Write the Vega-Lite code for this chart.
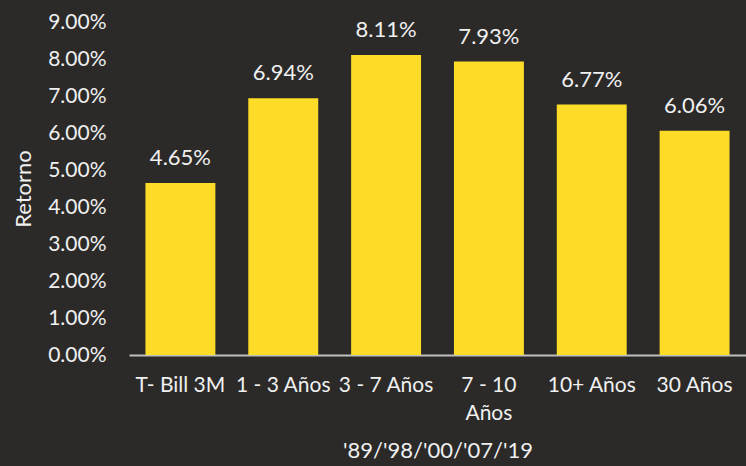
{
  "$schema": "https://vega.github.io/schema/vega-lite/v6.json",
  "autosize": {"type": "none"},
  "padding": {"left": 129, "top": 22, "right": 0, "bottom": 111},
  "width": 617,
  "height": 333,
  "background": "#2b2a28",
  "config": {
    "view": {"stroke": null},
    "font": "Lato",
    "axis": {"labelFont": "Lato", "titleFont": "Lato", "labelColor": "#f0f0f0", "titleColor": "#f0f0f0", "grid": false, "ticks": false, "labelFontSize": 21, "titleFontSize": 22, "titleFontWeight": "normal"}
  },
  "data": {
    "values": [
      {"plazo": "T- Bill 3M", "retorno": 0.0465},
      {"plazo": "1 - 3 Años", "retorno": 0.0694},
      {"plazo": "3 - 7 Años", "retorno": 0.0811},
      {"plazo": "7 - 10 Años", "retorno": 0.0793},
      {"plazo": "10+ Años", "retorno": 0.0677},
      {"plazo": "30 Años", "retorno": 0.0606}
    ]
  },
  "encoding": {
    "x": {
      "field": "plazo", "type": "nominal", "sort": null,
      "scale": {"paddingInner": 0.32, "paddingOuter": 0.16},
      "axis": {
        "title": "'89/'98/'00/'07/'19",
        "labelAngle": 0, "labelPadding": 19, "titlePadding": 17,
        "labelFontSize": 21, "titleFontSize": 22,
        "domainColor": "#bfbfbf", "domainWidth": 2,
        "labelExpr": "datum.label == '7 - 10 Años' ? ['7 - 10', 'Años'] : datum.label",
        "labelLineHeight": 28
      }
    },
    "y": {
      "field": "retorno", "type": "quantitative",
      "scale": {"domain": [0, 0.09]},
      "axis": {"title": "Retorno", "format": ".2%", "values": [0,0.01,0.02,0.03,0.04,0.05,0.06,0.07,0.08,0.09], "domain": false, "labelPadding": 23, "titlePadding": 12, "labelFontSize": 21, "titleFontSize": 22}
    }
  },
  "layer": [
    {"mark": {"type": "bar", "color": "#fddc27"}},
    {"mark": {"type": "text", "baseline": "middle", "dy": -25, "color": "#f0f0f0", "fontSize": 22}, "encoding": {"text": {"field": "retorno", "format": ".2%"}}}
  ]
}
